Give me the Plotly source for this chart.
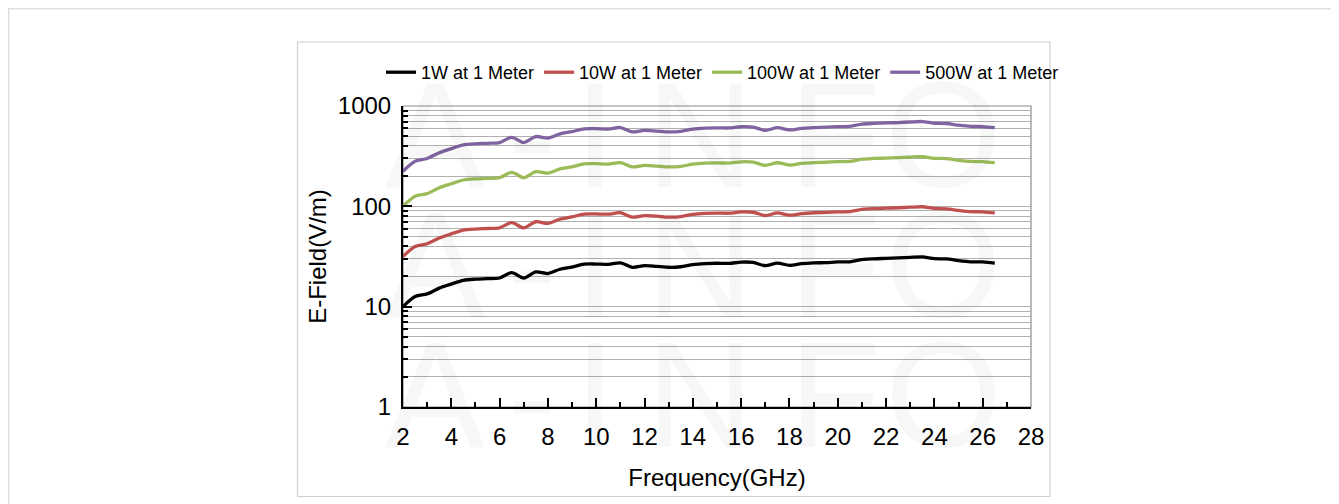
import plotly.graph_objects as go

freq_ghz = [2.0, 2.5, 3.0, 3.5, 4.0, 4.5, 5.0, 5.5, 6.0, 6.5, 7.0, 7.5, 8.0, 8.5, 9.0, 9.5,
            10.0, 10.5, 11.0, 11.5, 12.0, 12.5, 13.0, 13.5, 14.0, 14.5, 15.0, 15.5, 16.0, 16.5,
            17.0, 17.5, 18.0, 18.5, 19.0, 19.5, 20.0, 20.5, 21.0, 21.5, 22.0, 22.5, 23.0, 23.5,
            24.0, 24.5, 25.0, 25.5, 26.0, 26.5]

field_1w = [10.0, 12.6, 13.4, 15.3, 16.8, 18.3, 18.8, 19.0, 19.3, 21.8, 19.3, 22.2, 21.4, 23.6,
            24.8, 26.5, 26.6, 26.4, 27.3, 24.7, 25.6, 25.2, 24.7, 25.0, 26.3, 26.9, 27.1, 27.0,
            27.8, 27.6, 25.6, 27.2, 25.8, 26.8, 27.3, 27.5, 27.9, 28.0, 29.5, 30.0, 30.3, 30.6,
            31.0, 31.3, 30.1, 29.9, 28.8, 28.0, 27.9, 27.2]

field_10w = [31.6, 39.8, 42.4, 48.4, 53.1, 57.9, 59.4, 60.1, 61.0, 68.9, 61.0, 70.2, 67.7, 74.6,
             78.4, 83.8, 84.1, 83.5, 86.3, 78.1, 80.9, 79.7, 78.1, 79.1, 83.2, 85.1, 85.7, 85.4,
             87.9, 87.3, 80.9, 86.0, 81.6, 84.7, 86.3, 87.0, 88.2, 88.5, 93.3, 94.9, 95.8, 96.8,
             98.0, 99.0, 95.2, 94.5, 91.1, 88.5, 88.2, 86.0]

field_100w = [100, 126, 134, 153, 168, 183, 188, 190, 193, 218, 193, 222, 214, 236, 248, 265,
              266, 264, 273, 247, 256, 252, 247, 250, 263, 269, 271, 270, 278, 276, 256, 272,
              258, 268, 273, 275, 279, 280, 295, 300, 303, 306, 310, 313, 301, 299, 288, 280,
              279, 272]

field_500w = [224, 282, 300, 342, 376, 409, 420, 425, 432, 487, 432, 496, 479, 528, 555, 593,
              595, 590, 610, 552, 572, 563, 552, 559, 588, 601, 606, 604, 622, 617, 572, 608,
              577, 599, 610, 615, 624, 626, 660, 671, 678, 684, 693, 700, 673, 669, 644, 626,
              624, 608]

series_names = ["1W at 1 Meter", "10W at 1 Meter", "100W at 1 Meter", "500W at 1 Meter"]
series_colors = ["#000000", "#C0504D", "#9BBB59", "#8064A2"]
series_values = [field_1w, field_10w, field_100w, field_500w]

x_ticks = [2, 4, 6, 8, 10, 12, 14, 16, 18, 20, 22, 24, 26, 28]
y_tickvals = [1, 10, 100, 1000]
y_ticktext = ["1", "10", "100", "1000"]

watermark_letters = ["A", "-", "I", "N", "F", "O"]

# figure coordinates (page body adds an 8px offset)
W, H = 1331, 496
L, R, T, B = 395, 1023, 98, 399


def px(xp):
    return (xp - L) / (R - L)


def py(yp):
    return (B - yp) / (B - T)


fig = go.Figure()
for name, color, vals in zip(series_names, series_colors, series_values):
    fig.add_trace(go.Scatter(x=freq_ghz, y=vals, name=name, mode="lines",
                             line=dict(color=color, width=3.3, shape="spline", smoothing=0.8)))

font = "Liberation Sans, Arial, sans-serif"

shapes = [
    dict(type="line", xref="paper", yref="paper", x0=px(0), x1=px(W), y0=py(0.75), y1=py(0.75),
         line=dict(color="#e0e0e0", width=1.5), layer="below"),
    dict(type="line", xref="paper", yref="paper", x0=px(0.75), x1=px(0.75), y0=py(0), y1=py(H),
         line=dict(color="#e0e0e0", width=1.5), layer="below"),
    dict(type="rect", xref="paper", yref="paper", x0=px(289.5), x1=px(1042), y0=py(34), y1=py(488.5),
         line=dict(color="#d0d0d0", width=1.2), layer="below"),
    dict(type="rect", xref="paper", yref="paper", x0=0, x1=1, y0=0, y1=1,
         line=dict(color="#8c8c8c", width=1.2), layer="below"),
]

annotations = []
letter_x = [427, 524, 587, 692, 827, 935]
for row_y in [127, 257, 387]:
    for letter, lx in zip(watermark_letters, letter_x):
        annotations.append(dict(text=letter, xref="paper", yref="paper", x=px(lx), y=py(row_y),
                                showarrow=False,
                                font=dict(family=font, size=150, color="rgba(0,0,0,0.03)"),
                                xanchor="center", yanchor="middle"))

fig.update_layout(
    width=W, height=H,
    margin=dict(l=L, r=W - R, t=T, b=H - B, pad=0),
    paper_bgcolor="white", plot_bgcolor="white",
    font=dict(family=font, size=24, color="#000000"),
    showlegend=True,
    legend=dict(orientation="h", x=px(373), y=py(46), xanchor="left", yanchor="top",
                font=dict(family=font, size=18, color="#000000"),
                itemwidth=30, tracegroupgap=0, bgcolor="rgba(0,0,0,0)"),
    shapes=shapes,
    annotations=annotations,
    xaxis=dict(range=[2, 28], tickvals=x_ticks, ticks="inside", ticklen=9, tickwidth=1.5,
               tickcolor="#000000", showline=True, linecolor="#000000", linewidth=2,
               showgrid=False, zeroline=False, ticklabelstandoff=7,
               minor=dict(dtick=1, tick0=2, ticks="inside", ticklen=5, tickwidth=1.5, tickcolor="#000000",
                          showgrid=False),
               title=dict(text="Frequency(GHz)", standoff=20, font=dict(size=24))),
    yaxis=dict(type="log", range=[0, 3], tickvals=y_tickvals, ticktext=y_ticktext, ticks="inside",
               ticklen=9, tickwidth=1.5, tickcolor="#000000", showline=True, linecolor="#000000",
               linewidth=2, showgrid=True, gridcolor="#b0b0b0", gridwidth=1, zeroline=False,
               ticklabelstandoff=5,
               minor=dict(dtick="D1", ticks="inside", ticklen=5, tickwidth=1.5, tickcolor="#000000",
                          showgrid=True, gridcolor="#b0b0b0", gridwidth=1),
               title=dict(text="E-Field(V/m)", standoff=4, font=dict(size=24))),
)

fig.write_html("out.html")
